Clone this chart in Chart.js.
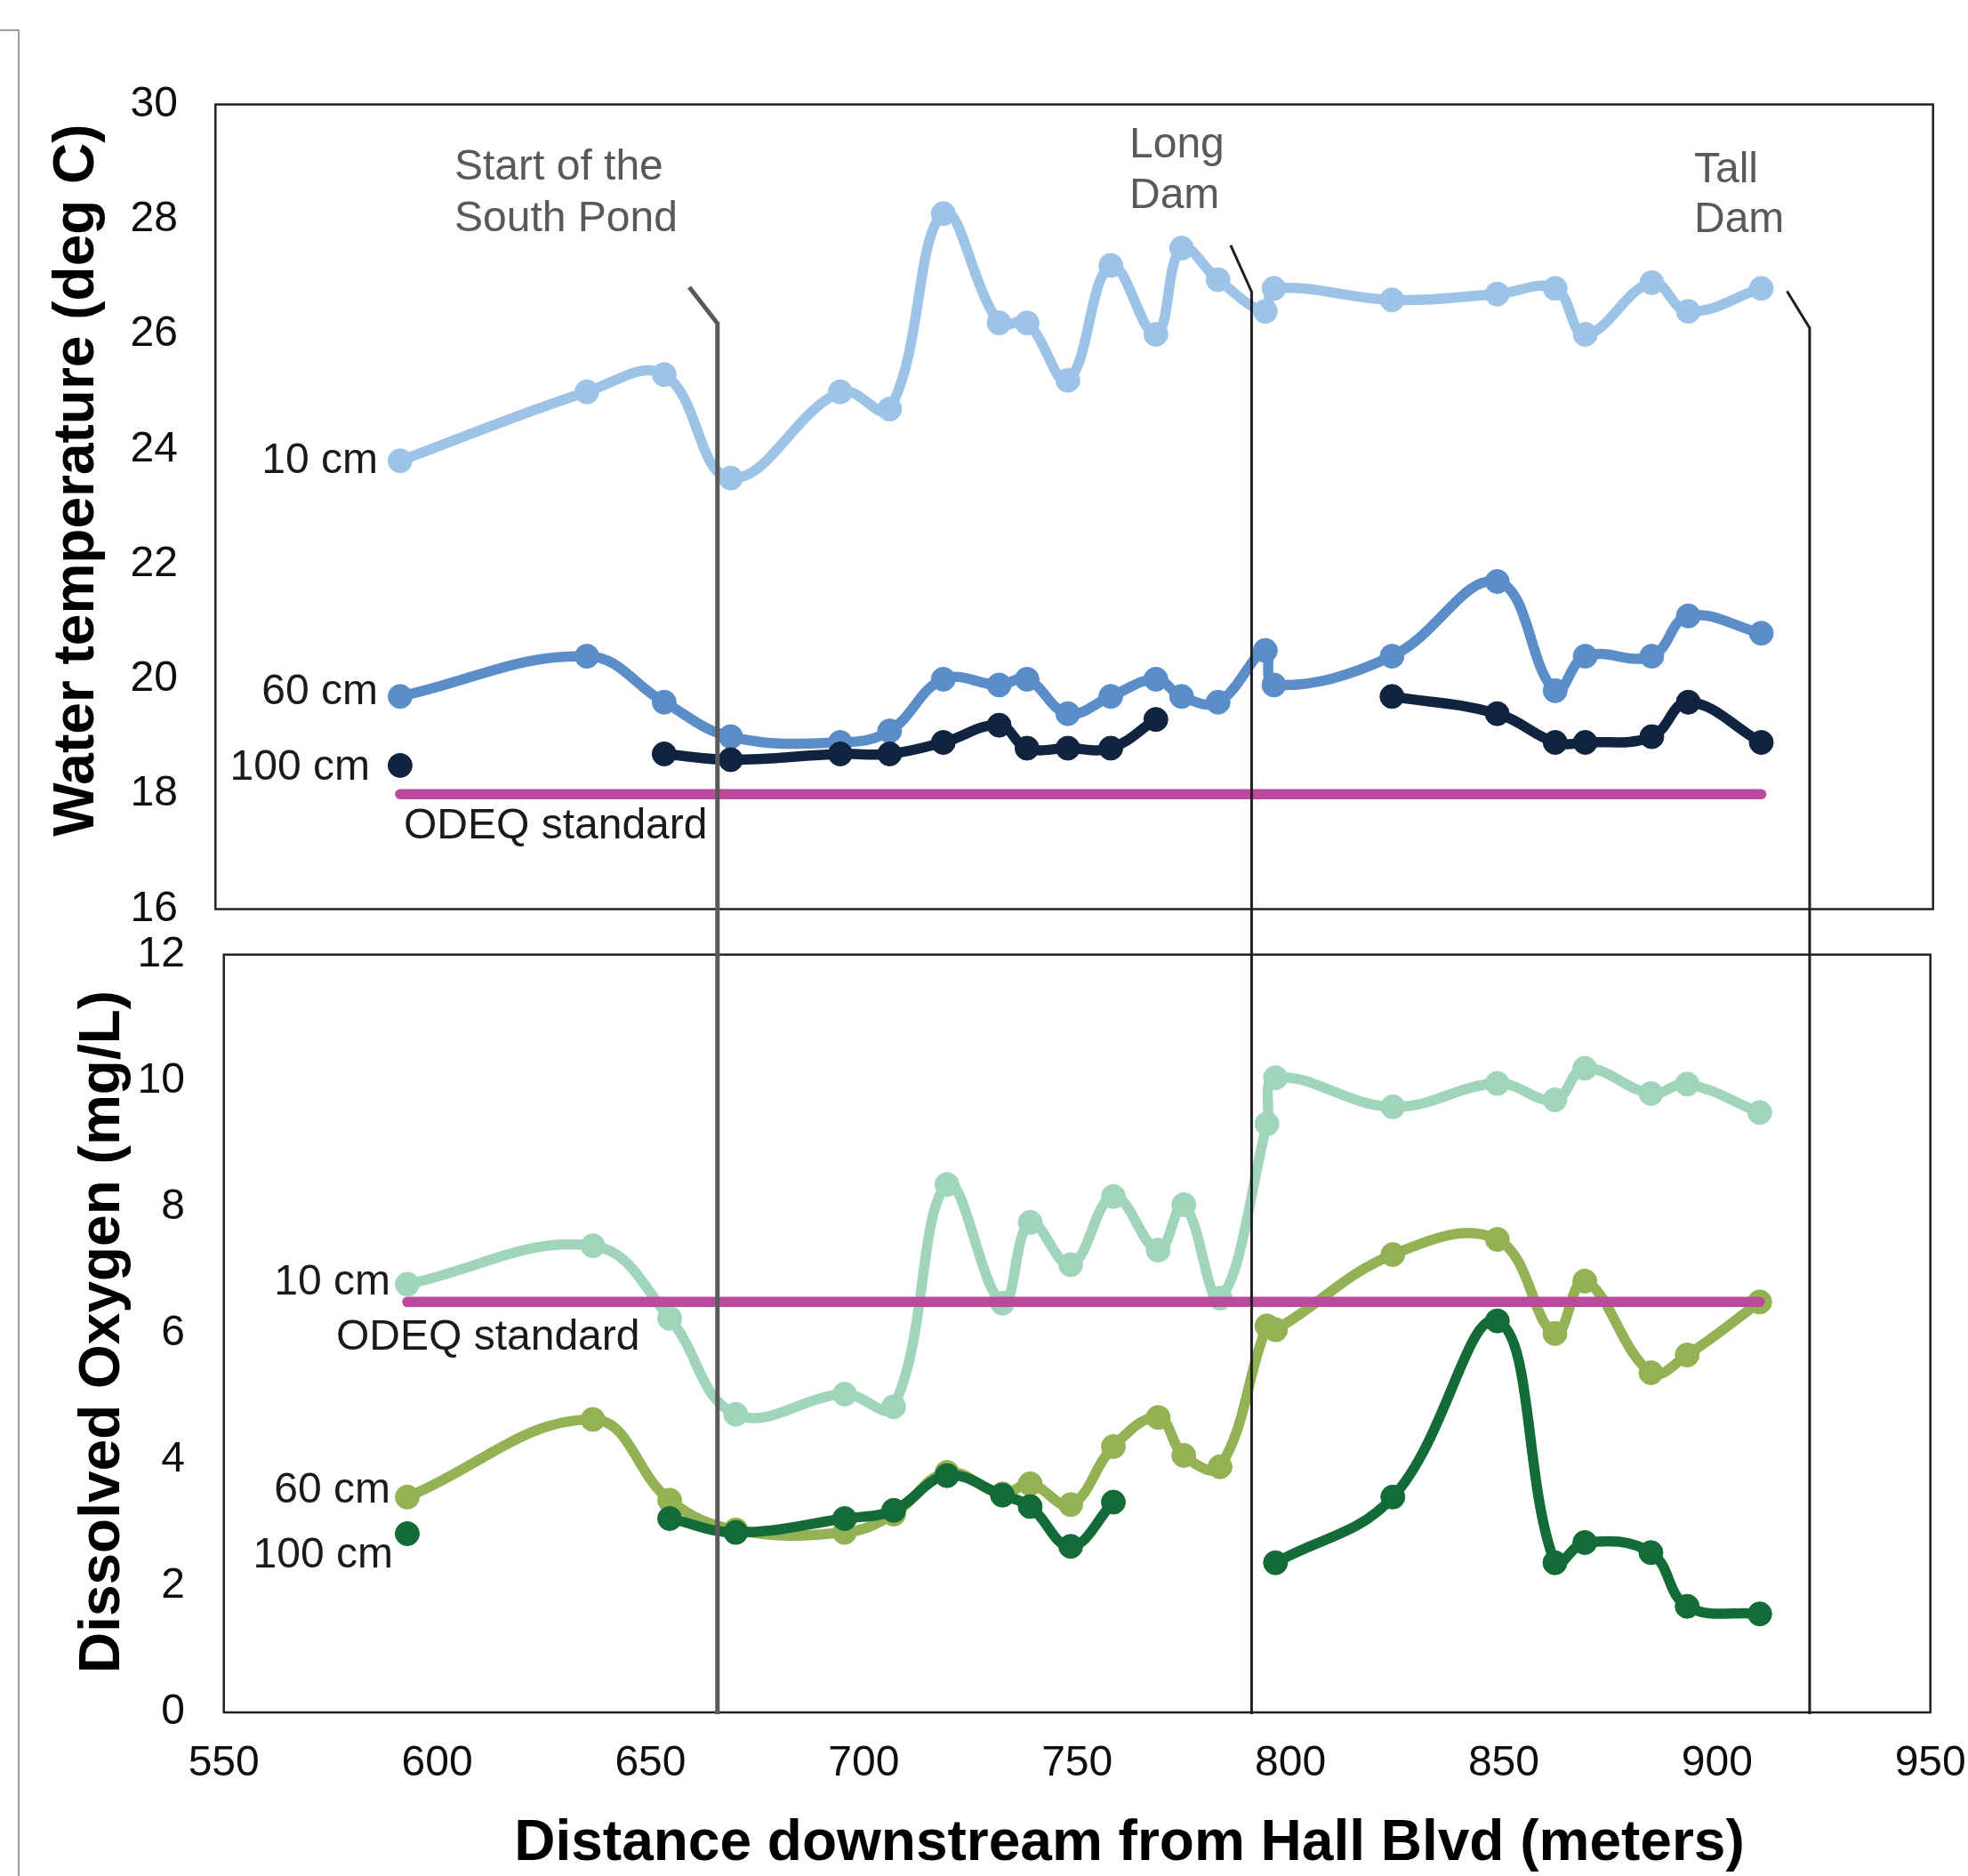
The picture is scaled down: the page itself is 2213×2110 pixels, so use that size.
<!DOCTYPE html>
<html>
<head>
<meta charset="utf-8">
<script src="https://cdn.jsdelivr.net/npm/chart.js@4"></script>
<style>
  body { margin: 0; background: #fff; }
  .wrap { position: relative; width: 2213px; height: 2110px; overflow: hidden; background: #fff; }
  .frame { position: absolute; left: 0; top: 33px; width: 20px; height: 2100px;
           border-top: 2px solid #a39c9a; border-right: 2px solid #a39c9a; }
  #tempChart { position: absolute; left: 0; top: 0; }
  #doChart { position: absolute; left: 0; top: 1048px; }
</style>
</head>
<body>
<div class="wrap">
  <div class="frame"></div>
  <canvas id="tempChart" width="2213" height="1048"></canvas>
  <canvas id="doChart" width="2213" height="1062"></canvas>
</div>
<script>
const FONT = "'Liberation Sans', Arial, sans-serif";

// sampling sites, meters downstream from Hall Blvd
const distance = [593, 636.5, 654.5, 670, 695.5, 707, 719.5, 732.5, 739, 748.5, 758.5, 769,
                  775, 783.5, 794.5, 796.5, 824, 848.5, 862, 869, 884.5, 893, 910];

// water temperature (deg C)
const temp10 = [23.8, 25.0, 25.3, 23.5, 25.0, 24.7, 28.1, 26.2, 26.2, 25.2, 27.2, 26.0,
                27.5, 26.95, 26.4, 26.8, 26.6, 26.7, 26.8, 26.0, 26.9, 26.4, 26.8];
const temp60 = [19.7, 20.4, 19.6, 19.0, 18.9, 19.1, 20.0, 19.9, 20.0, 19.4, 19.7, 20.0,
                19.7, 19.6, 20.5, 19.9, 20.4, 21.7, 19.8, 20.4, 20.4, 21.1, 20.8];
const temp100 = [18.5, null, 18.7, 18.6, 18.7, 18.7, 18.9, 19.2, 18.8, 18.8, 18.8, 19.3,
                 null, null, null, null, 19.7, 19.4, 18.9, 18.9, 19.0, 19.6, 18.9];

// dissolved oxygen (mg/L)
const do10 = [6.78, 7.39, 6.24, 4.72, 5.04, 4.84, 8.36, 6.48, 7.76, 7.09, 8.17, 7.32,
              8.04, 6.56, 9.32, 10.05, 9.59, 9.96, 9.70, 10.2, 9.8, 9.95, 9.5];
const do60 = [3.41, 4.64, 3.36, 2.89, 2.85, 3.14, 3.80, 3.46, 3.62, 3.29, 4.21, 4.67,
              4.07, 3.89, 6.12, 6.06, 7.25, 7.49, 6.0, 6.83, 5.38, 5.66, 6.5];
const do100 = [2.83, null, 3.07, 2.85, 3.07, 3.2, 3.75, 3.44, 3.26, 2.63, 3.33, null,
               null, null, null, 2.37, 3.41, 6.2, 2.37, 2.69, 2.53, 1.68, 1.56];

const odeqTemp = 18;
const odeqDO = 6.5;

// landmarks (Start of the South Pond, Long Dam, Tall Dam)
const damX = [665.7, 790.9, 921.7];
const damKneeY = [26.19, 26.74, 26.11];
const damTipX = [659.1, 786.0, 916.4];
const damTipY = [26.82, 27.55, 26.75];
const damColor = ["#595959", "#1f1f1f", "#1f1f1f"];
const damWidth = [5, 3, 3];

const texts = {
    top: [
        { t: "Start of the", x: 511, y: 189, a: "left", c: "#595959" },
        { t: "South Pond", x: 511, y: 247, a: "left", c: "#595959" },
        { t: "Long", x: 1270, y: 164, a: "left", c: "#595959" },
        { t: "Dam", x: 1270, y: 221, a: "left", c: "#595959" },
        { t: "Tall", x: 1905, y: 192, a: "left", c: "#595959" },
        { t: "Dam", x: 1905, y: 248, a: "left", c: "#595959" },
        { t: "10 cm", x: 425, y: 519, a: "right" },
        { t: "60 cm", x: 425, y: 779, a: "right" },
        { t: "100 cm", x: 416, y: 864, a: "right" },
        { t: "ODEQ standard", x: 454, y: 930, a: "left" }
    ],
    bottom: [
        { t: "10 cm", x: 439, y: 395, a: "right" },
        { t: "ODEQ standard", x: 378, y: 457, a: "left" },
        { t: "60 cm", x: 439, y: 629, a: "right" },
        { t: "100 cm", x: 442, y: 702, a: "right" }
    ]
};

const titles = {
    top: [{ t: "Water temperature (deg C)", x: 105, y: 540, rot: true }],
    bottom: [
        { t: "Dissolved Oxygen (mg/L)", x: 133.5, y: 450, rot: true },
        { t: "Distance downstream from Hall Blvd (meters)", x: 1270, y: 1044, rot: false }
    ]
};

let doChart = null;

const decor = {
    id: "decor",
    beforeDatasetsDraw(chart) {
        const { ctx, chartArea: a } = chart;
        ctx.save();
        ctx.strokeStyle = "#222";
        ctx.lineWidth = 2.5;
        ctx.strokeRect(a.left, a.top, a.right - a.left, a.bottom - a.top);
        ctx.restore();
    },
    afterDatasetsDraw(chart, args, opts) {
        const ctx = chart.ctx;
        const part = opts.part;
        const xs = part === "top" ? doChart.scales.x : chart.scales.x;
        ctx.save();
        ctx.lineCap = "butt";
        ctx.lineJoin = "miter";
        damX.forEach((d, i) => {
            const px = xs.getPixelForValue(d);
            ctx.strokeStyle = damColor[i];
            ctx.lineWidth = damWidth[i];
            ctx.beginPath();
            if (part === "top") {
                const ys = chart.scales.y;
                ctx.moveTo(xs.getPixelForValue(damTipX[i]), ys.getPixelForValue(damTipY[i]));
                ctx.lineTo(px, ys.getPixelForValue(damKneeY[i]));
                ctx.lineTo(px, chart.height);
            } else {
                ctx.moveTo(px, 0);
                ctx.lineTo(px, chart.chartArea.bottom + 2);
            }
            ctx.stroke();
        });

        ctx.font = "48px " + FONT;
        ctx.textBaseline = "middle";
        texts[part].forEach(l => {
            ctx.fillStyle = l.c || "#1a1a1a";
            ctx.textAlign = l.a;
            ctx.fillText(l.t, l.x, l.y);
        });

        ctx.font = "bold 64px " + FONT;
        ctx.fillStyle = "#000";
        ctx.textBaseline = "alphabetic";
        ctx.textAlign = "center";
        titles[part].forEach(t => {
            ctx.save();
            ctx.translate(t.x, t.y);
            if (t.rot) ctx.rotate(-Math.PI / 2);
            ctx.fillText(t.t, 0, 0);
            ctx.restore();
        });
        ctx.restore();
    }
};

function toPoints(ys) {
    return distance.map((x, i) => ({ x: x, y: ys[i] }));
}

function series(label, ys, color, order) {
    return {
        label: label,
        data: toPoints(ys),
        borderColor: color,
        backgroundColor: color,
        borderWidth: 11.5,
        pointRadius: 13.5,
        pointBorderWidth: 1,
        pointBackgroundColor: color,
        pointBorderColor: color,
        tension: 0.4,
        spanGaps: false,
        borderCapStyle: "round",
        borderJoinStyle: "round",
        order: order
    };
}

function odeq(value, color) {
    return {
        label: "ODEQ standard",
        data: [{ x: distance[0], y: value }, { x: distance[distance.length - 1], y: value }],
        borderColor: color,
        borderWidth: 11.5,
        pointRadius: 0,
        tension: 0,
        borderCapStyle: "round",
        order: 1
    };
}

const tickFont = { family: FONT, size: 48, lineHeight: 1 };

// Dissolved oxygen chart (bottom) - built first, its x scale is shared by the dam lines
doChart = new Chart(document.getElementById("doChart"), {
    type: "line",
    data: {
        datasets: [
            series("10 cm", do10, "#a0d5bc", 4),
            series("60 cm", do60, "#93b254", 3),
            series("100 cm", do100, "#136b38", 2),
            odeq(odeqDO, "#ba4b9c")
        ]
    },
    options: {
        responsive: false,
        animation: false,
        devicePixelRatio: 1,
        events: [],
        layout: { padding: { left: 0, right: 42.3, top: 25.7, bottom: 0 } },
        plugins: { legend: { display: false }, tooltip: { enabled: false }, decor: { part: "bottom" } },
        scales: {
            x: {
                type: "linear", min: 550, max: 950,
                ticks: { stepSize: 50, padding: 34, color: "#0d0d0d", font: tickFont, maxRotation: 0 },
                grid: { display: false, drawTicks: false },
                border: { display: false },
                afterFit(s) { s.height = 184; s.paddingLeft = 0; s.paddingRight = 0; }
            },
            y: {
                min: 0, max: 12,
                ticks: { stepSize: 2, padding: 43.7, color: "#0d0d0d", font: tickFont },
                grid: { display: false, drawTicks: false },
                border: { display: false },
                afterFit(s) { s.width = 251.7; s.paddingTop = 0; s.paddingBottom = 0; }
            }
        }
    },
    plugins: [decor]
});

// Water temperature chart (top)
new Chart(document.getElementById("tempChart"), {
    type: "line",
    data: {
        datasets: [
            series("10 cm", temp10, "#9dc3e6", 4),
            series("60 cm", temp60, "#5b8dc8", 3),
            series("100 cm", temp100, "#10243f", 2),
            odeq(odeqTemp, "#ba4b9c")
        ]
    },
    options: {
        responsive: false,
        animation: false,
        devicePixelRatio: 1,
        events: [],
        layout: { padding: { left: 0, right: 39.3, top: 117.5, bottom: 25.5 } },
        plugins: { legend: { display: false }, tooltip: { enabled: false }, decor: { part: "top" } },
        scales: {
            x: { type: "linear", min: 550, max: 950, display: false },
            y: {
                min: 16, max: 30,
                ticks: { stepSize: 2, padding: 42.3, color: "#0d0d0d", font: tickFont },
                grid: { display: false, drawTicks: false },
                border: { display: false },
                afterFit(s) { s.width = 242.3; s.paddingTop = 0; s.paddingBottom = 0; }
            }
        }
    },
    plugins: [decor]
});
</script>
</body>
</html>
